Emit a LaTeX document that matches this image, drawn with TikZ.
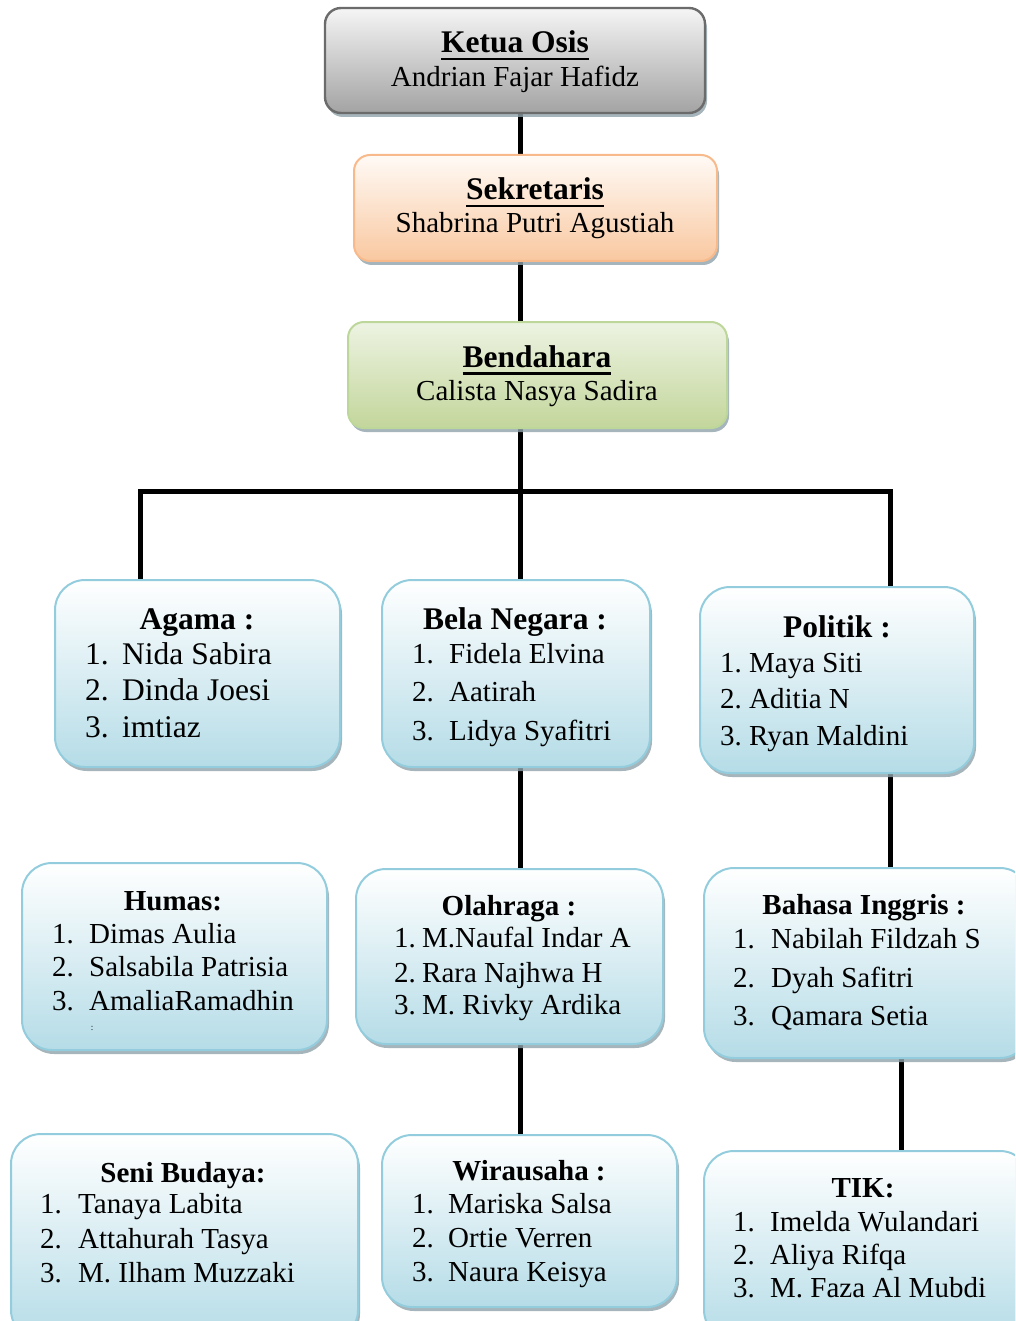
\documentclass[tikz,border=0pt]{standalone}
\usepackage{fontspec}
\setmainfont{Liberation Serif}
\usetikzlibrary{shadows,backgrounds}
\definecolor{kborder}{HTML}{6B6B6B}
\definecolor{ktop}{HTML}{F5F5F5}
\definecolor{kbot}{HTML}{A3A3A3}
\definecolor{sborder}{HTML}{F8B98B}
\definecolor{stop}{HTML}{FFFAF6}
\definecolor{sbot}{HTML}{F9C8A0}
\definecolor{gborder}{HTML}{BDD79B}
\definecolor{gtop}{HTML}{EDF3E2}
\definecolor{gbot}{HTML}{C3D69B}
\definecolor{bborder}{HTML}{93CDDD}
\definecolor{bbot}{HTML}{B5DCE7}
\definecolor{shadowc}{HTML}{8FA3AA}
\newcommand\ulbox[1]{\setbox0=\hbox{#1}\rlap{\rule[-7.5pt]{\wd0}{2.6pt}}\box0}
\newcommand\nb[2]{\makebox[#1pt][l]{#2}}
\tikzset{
  box/.style={line width=2pt, inner sep=0pt,
    drop shadow={shadow xshift=2pt, shadow yshift=-4pt, fill=shadowc, opacity=0.8}},
  topbox/.style={box, rounded corners=16pt},
  ketuabox/.style={topbox, draw=kborder, top color=ktop, bottom color=kbot, line width=2.4pt},
  sekrbox/.style={topbox, draw=sborder, top color=stop, bottom color=sbot},
  bendbox/.style={topbox, draw=gborder, top color=gtop, bottom color=gbot},
  bluebox/.style={box, rounded corners=30pt, draw=bborder, top color=white, bottom color=bbot},
  conn/.style={line width=5pt, black, line join=miter},
  bigttl/.style={anchor=base, inner sep=0pt, font=\bfseries\fontsize{31.5pt}{36pt}\selectfont},
  ttl/.style={anchor=base, inner sep=0pt, font=\bfseries\fontsize{29pt}{34pt}\selectfont},
  nm/.style={anchor=base, inner sep=0pt, font=\fontsize{29pt}{34pt}\selectfont},
  itm/.style={anchor=base west, inner sep=0pt, font=\fontsize{29pt}{34pt}\selectfont},
  bigitm/.style={anchor=base west, inner sep=0pt, font=\fontsize{31.5pt}{36pt}\selectfont},
}
\begin{document}
\begin{tikzpicture}[x=1pt,y=-1pt]
\useasboundingbox (0,0) rectangle (1015,1321);
\clip (0,0) rectangle (1015,1321);

% boxes
\node[ketuabox, minimum width=380pt, minimum height=105pt] (ketua) at (515,60.5) {};
\node[sekrbox, minimum width=363pt, minimum height=106pt] (sekr) at (535.5,208) {};
\node[bendbox, minimum width=379pt, minimum height=106pt] (bend) at (537.5,375) {};
\node[bluebox, minimum width=285pt, minimum height=187pt] (agama) at (197.5,673.5) {};
\node[bluebox, minimum width=268pt, minimum height=187pt] (bela) at (516,673.5) {};
\node[bluebox, minimum width=274pt, minimum height=186pt] (politik) at (837,680) {};
\node[bluebox, minimum width=305pt, minimum height=187pt] (humas) at (174.5,956.5) {};
\node[bluebox, minimum width=307pt, minimum height=175pt] (olah) at (509.5,956.5) {};
\node[bluebox, minimum width=326pt, minimum height=190pt] (bahasa) at (867,963) {};
\node[bluebox, minimum width=347pt, minimum height=206pt] (seni) at (184.5,1237) {};
\node[bluebox, minimum width=295pt, minimum height=172pt] (wira) at (529.5,1221) {};
\node[bluebox, minimum width=326pt, minimum height=189pt] (tik) at (867,1245.5) {};

% connectors
\coordinate (spine) at (520,491);
\coordinate (barL) at (140,491);
\coordinate (barR) at (890,491);
\coordinate (rspine) at (901,0);
\begin{pgfonlayer}{background}
\draw[conn] (ketua.south -| spine) -- (sekr.north -| spine);
\draw[conn] (sekr.south -| spine) -- (bend.north -| spine);
\draw[conn] (bend.south -| spine) -- (bela.north -| spine);
\draw[conn] (agama.north -| barL) -- (barL) -- (barR) -- (politik.north -| barR);
\draw[conn] (bela.south -| spine) -- (olah.north -| spine);
\draw[conn] (olah.south -| spine) -- (wira.north -| spine);
\draw[conn] (politik.south -| barR) -- (bahasa.north -| barR);
\draw[conn] (bahasa.south -| rspine) -- (tik.north -| rspine);
\end{pgfonlayer}

% top texts
\node[bigttl] (ketua-t) at (515,53) {\ulbox{Ketua Osis}};
\node[nm] (ketua-n) at (515,87) {Andrian Fajar Hafidz};
\node[bigttl] (sekr-t) at (535,200) {\ulbox{Sekretaris}};
\node[nm] (sekr-n) at (535,233) {Shabrina Putri Agustiah};
\node[bigttl] (bend-t) at (537,367) {\ulbox{Bendahara}};
\node[nm] (bend-n) at (537,400) {Calista Nasya Sadira};

% Agama
\node[bigttl] (agama-t) at (197,629) {Agama :};
\node[bigitm] (agama-1) at (85,664) {\nb{37}{1.}Nida Sabira};
\node[bigitm] (agama-2) at (85,700) {\nb{37}{2.}Dinda Joesi};
\node[bigitm] (agama-3) at (85,737) {\nb{37}{3.}imtiaz};

% Bela Negara
\node[bigttl] (bela-t) at (515,629) {Bela Negara :};
\node[itm] (bela-1) at (412,663) {\nb{37}{1.}Fidela Elvina};
\node[itm] (bela-2) at (412,701) {\nb{37}{2.}Aatirah};
\node[itm] (bela-3) at (412,740) {\nb{37}{3.}Lidya Syafitri};

% Politik
\node[bigttl] (politik-t) at (837,637) {Politik :};
\node[itm] (politik-1) at (720,672) {\nb{29}{1.}Maya Siti};
\node[itm] (politik-2) at (720,708) {\nb{29}{2.}Aditia N};
\node[itm] (politik-3) at (720,745) {\nb{29}{3.}Ryan Maldini};

% Humas
\node[ttl] (humas-t) at (173,910) {Humas:};
\node[itm] (humas-1) at (52,943) {\nb{37}{1.}Dimas Aulia};
\node[itm] (humas-2) at (52,976) {\nb{37}{2.}Salsabila Patrisia};
\node[itm] (humas-3) at (52,1010) {\nb{37}{3.}AmaliaRamadhin};
\node[anchor=base, inner sep=0pt, font=\fontsize{9pt}{10pt}\selectfont] (humas-x) at (92,1030) {:};

% Olahraga
\node[ttl] (olah-t) at (509,915) {Olahraga :};
\node[itm] (olah-1) at (394,947) {\nb{28}{1.}M.Naufal Indar A};
\node[itm] (olah-2) at (394,982) {\nb{28}{2.}Rara Najhwa H};
\node[itm] (olah-3) at (394,1014) {\nb{28}{3.}M. Rivky Ardika};

% Bahasa Inggris
\node[ttl] (bahasa-t) at (864,914) {Bahasa Inggris :};
\node[itm] (bahasa-1) at (733,948) {\nb{38}{1.}Nabilah Fildzah S};
\node[itm] (bahasa-2) at (733,987) {\nb{38}{2.}Dyah Safitri};
\node[itm] (bahasa-3) at (733,1025) {\nb{38}{3.}Qamara Setia};

% Seni Budaya
\node[ttl] (seni-t) at (183,1182) {Seni Budaya:};
\node[itm] (seni-1) at (40,1213) {\nb{38}{1.}Tanaya Labita};
\node[itm] (seni-2) at (40,1248) {\nb{38}{2.}Attahurah Tasya};
\node[itm] (seni-3) at (40,1282) {\nb{38}{3.}M. Ilham Muzzaki};

% Wirausaha
\node[ttl] (wira-t) at (529,1180) {Wirausaha :};
\node[itm] (wira-1) at (412,1213) {\nb{36}{1.}Mariska Salsa};
\node[itm] (wira-2) at (412,1247) {\nb{36}{2.}Ortie Verren};
\node[itm] (wira-3) at (412,1281) {\nb{36}{3.}Naura Keisya};

% TIK
\node[ttl] (tik-t) at (863,1197) {TIK:};
\node[itm] (tik-1) at (733,1231) {\nb{37}{1.}Imelda Wulandari};
\node[itm] (tik-2) at (733,1264) {\nb{37}{2.}Aliya Rifqa};
\node[itm] (tik-3) at (733,1297) {\nb{37}{3.}M. Faza Al Mubdi};
\end{tikzpicture}
\end{document}
